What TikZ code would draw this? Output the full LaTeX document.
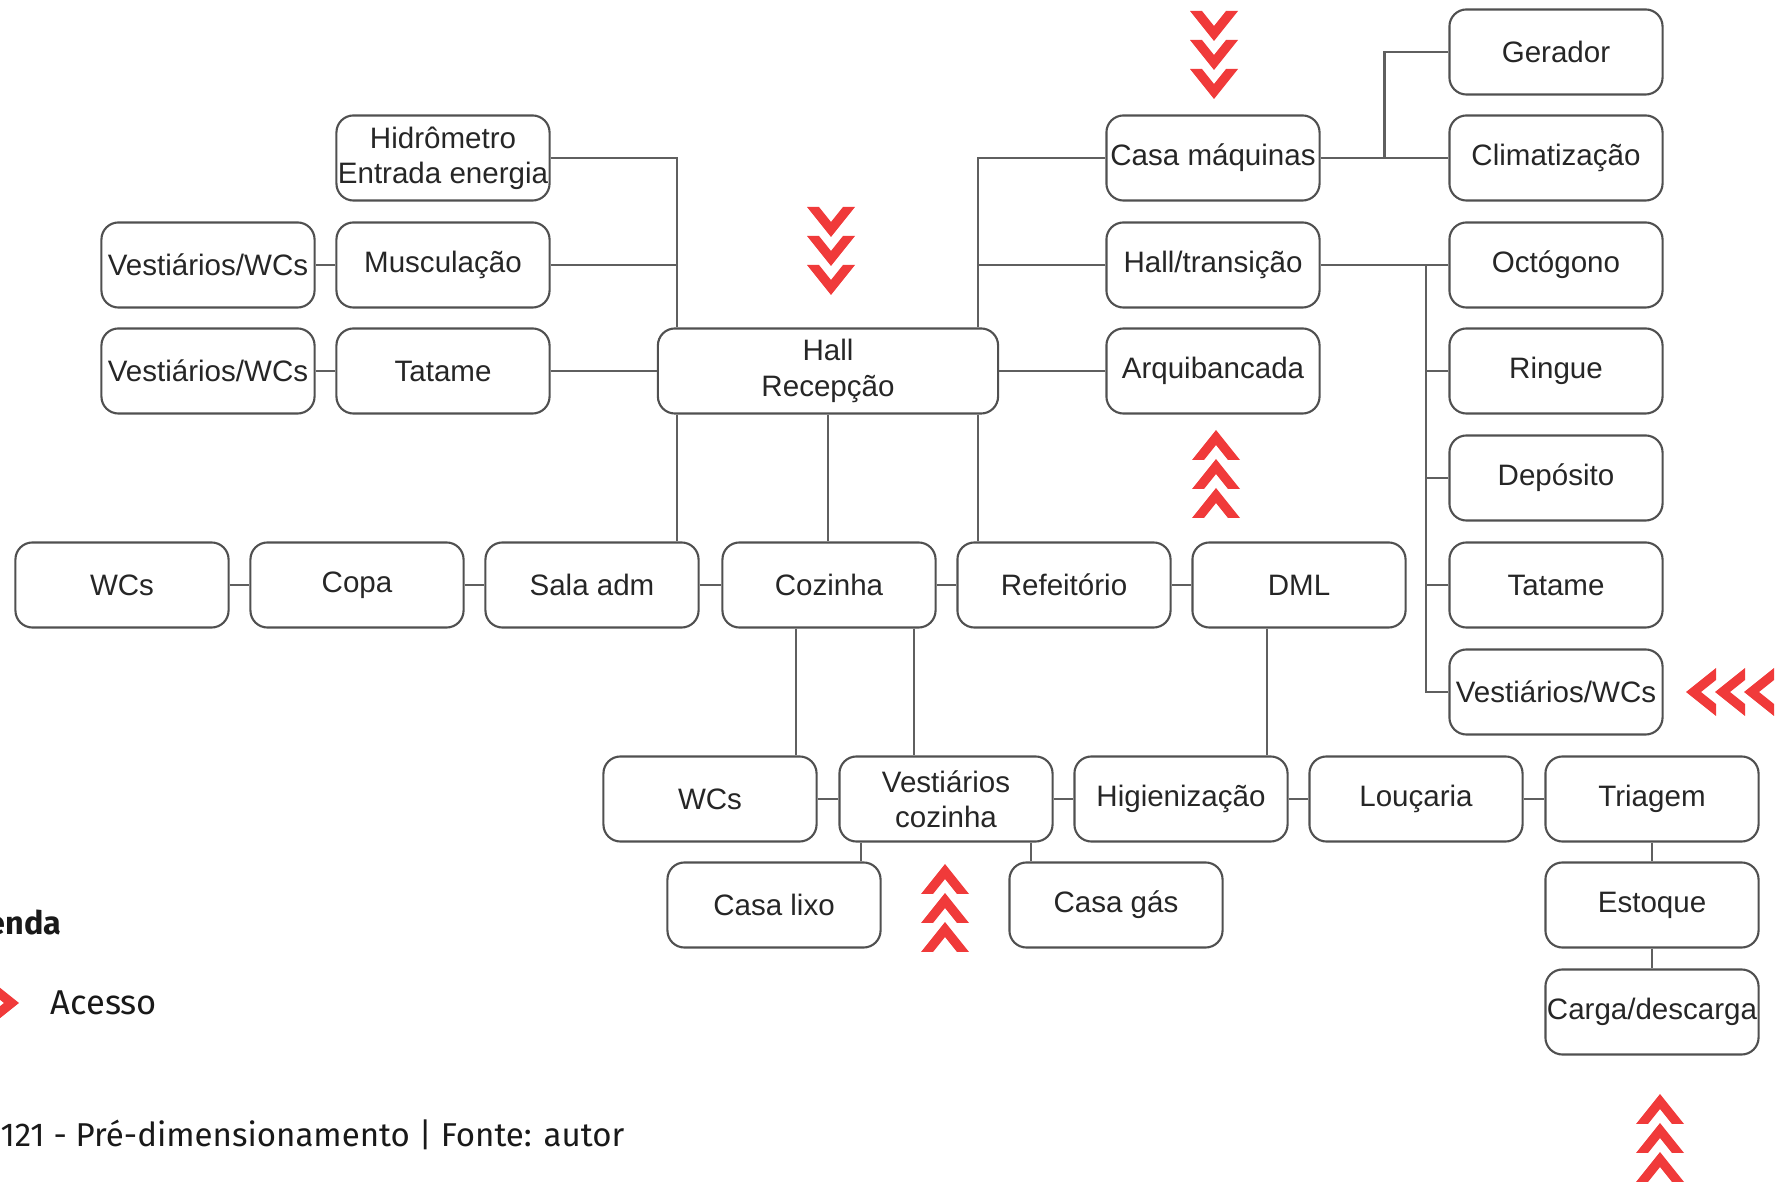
\documentclass[tikz,border=0pt]{standalone}
\usepackage{fontspec}
\setmainfont{Liberation Sans}
\newfontfamily\legfont{Fira Sans}
\usetikzlibrary{positioning,calc}
\definecolor{accred}{RGB}{240,58,58}
\definecolor{boxline}{RGB}{80,80,80}
\definecolor{linkline}{RGB}{95,95,95}
\tikzset{
  box/.style={draw=boxline, line width=0.6pt, rounded corners=0.17cm,
    minimum width=2.13cm, minimum height=0.85cm, inner sep=0pt,
    align=center, text=black!85, font=\fontsize{8.4}{10}\selectfont},
  link/.style={draw=linkline, line width=0.6pt},
  legtext/.style={inner sep=0pt, text=black!90, font=\legfont\fontsize{9.8}{12}\selectfont},
  chevs/.pic={
    \foreach \k in {0,1,2}
      \fill[accred, shift={(0,29*\k)}] (-24,0) -- (-12,0) -- (0,15) -- (12,0) -- (24,0) -- (0,30) -- cycle;
  }
}

\begin{document}
\begin{tikzpicture}[x=0.01cm,y=-0.01cm]
\useasboundingbox (0,0) rectangle (1778,1183);
\clip (0,0) rectangle (1778,1183);

% upper left block
\draw(443,158) node[box] (hidro) {Hidrômetro\\Entrada energia};
\draw(443,265) node[box] (musc) {Musculação};
\draw(443,371) node[box] (tatL) {Tatame};
\draw(208,265) node[box] (vestA) {Vestiários/WCs};
\draw(208,371) node[box] (vestB) {Vestiários/WCs};
\draw(828,371) node[box, minimum width=3.4cm] (hall) {Hall\\Recepção};

% upper right block
\draw(1213,158) node[box] (casamaq) {Casa máquinas};
\draw(1213,265) node[box] (halltr) {Hall/transição};
\draw(1213,371) node[box] (arqui) {Arquibancada};
\draw(1556,52) node[box] (gerador) {Gerador};
\draw(1556,158) node[box] (clima) {Climatização};
\draw(1556,265) node[box] (octo) {Octógono};
\draw(1556,371) node[box] (ringue) {Ringue};
\draw(1556,478) node[box] (deposito) {Depósito};
\draw(1556,585) node[box] (tatR) {Tatame};
\draw(1556,692) node[box] (vestR) {Vestiários/WCs};

% middle row
\draw(122,585) node[box] (wcA) {WCs};
\draw(357,585) node[box] (copa) {Copa};
\draw(592,585) node[box] (sala) {Sala adm};
\draw(829,585) node[box] (cozinha) {Cozinha};
\draw(1064,585) node[box] (refeit) {Refeitório};
\draw(1299,585) node[box] (dml) {DML};

% kitchen service rows
\draw(710,799) node[box] (wcB) {WCs};
\draw(946,799) node[box] (vestcoz) {Vestiários\\cozinha};
\draw(1181,799) node[box] (higien) {Higienização};
\draw(1416,799) node[box] (loucaria) {Louçaria};
\draw(1652,799) node[box] (triagem) {Triagem};
\draw(774,905) node[box] (lixo) {Casa lixo};
\draw(1116,905) node[box] (gas) {Casa gás};
\draw(1652,905) node[box] (estoque) {Estoque};
\draw(1652,1012) node[box] (carga) {Carga/descarga};

% connectors
\coordinate (busL) at ([xshift=0.2cm]hall.north west);
\coordinate (busR) at ([xshift=-0.21cm]hall.north east);
\coordinate (jM) at ($(casamaq.east)!0.5!(clima.west)$);
\coordinate (jR) at ([xshift=-0.22cm]octo.west);

\draw[link] (hidro.east) -| (busL);
\draw[link] (musc.east) -- (musc.east -| busL);
\draw[link] (tatL.east) -- (hall.west);
\draw[link] (vestA.east) -- (musc.west);
\draw[link] (vestB.east) -- (tatL.west);
\draw[link] (busR) |- (casamaq.west);
\draw[link] (halltr.west) -- (halltr.west -| busR);
\draw[link] (arqui.west) -- (hall.east);
\draw[link] (casamaq.east) -- (clima.west);
\draw[link] (jM) |- (gerador.west);
\draw[link] (halltr.east) -- (octo.west);
\draw[link] (jR) |- (vestR.west);
\draw[link] (ringue.west) -- (ringue.west -| jR);
\draw[link] (deposito.west) -- (deposito.west -| jR);
\draw[link] (tatR.west) -- (tatR.west -| jR);

\draw[link] ([xshift=0.2cm]hall.south west) -- ([xshift=0.2cm]hall.south west |- sala.north);
\draw[link] (hall.south) -- (hall.south |- cozinha.north);
\draw[link] ([xshift=-0.21cm]hall.south east) -- ([xshift=-0.21cm]hall.south east |- refeit.north);

\draw[link] (wcA) -- (copa);
\draw[link] (copa) -- (sala);
\draw[link] (sala) -- (cozinha);
\draw[link] (cozinha) -- (refeit);
\draw[link] (refeit) -- (dml);

\draw[link] ([xshift=-0.33cm]cozinha.south) -- ([xshift=-0.33cm]cozinha.south |- wcB.north);
\draw[link] ([xshift=0.85cm]cozinha.south) -- ([xshift=0.85cm]cozinha.south |- vestcoz.north);
\draw[link] ([xshift=-0.32cm]dml.south) -- ([xshift=-0.32cm]dml.south |- higien.north);

\draw[link] (wcB) -- (vestcoz);
\draw[link] (vestcoz) -- (higien);
\draw[link] (higien) -- (loucaria);
\draw[link] (loucaria) -- (triagem);
\draw[link] ([xshift=-0.85cm]vestcoz.south) -- ([xshift=-0.85cm]vestcoz.south |- lixo.north);
\draw[link] ([xshift=0.85cm]vestcoz.south) -- ([xshift=0.85cm]vestcoz.south |- gas.north);
\draw[link] (triagem) -- (estoque);
\draw[link] (estoque) -- (carga);

% access chevrons
\pic at (831,207) {chevs};
\pic at (1214,11) {chevs};
\pic[rotate=180] at (1216,518) {chevs};
\pic[rotate=180] at (945,952) {chevs};
\pic[rotate=180] at (1660,1182) {chevs};
\pic[rotate=-90] at (1774,692) {chevs};

% legend
\draw(62,926) node[legtext, anchor=east, font=\legfont\bfseries\fontsize{9.2}{12}\selectfont] (legtitle) {Legenda};
\pic[rotate=90] at (-69,1003) {chevs};
\draw(50,1003) node[legtext, anchor=west] (legacc) {Acesso};
\draw(625,1137) node[legtext, anchor=east, font=\legfont\fontsize{9.4}{12}\selectfont] (caption) {Figura 121 - Pré-dimensionamento | Fonte: autor};
\end{tikzpicture}
\end{document}
